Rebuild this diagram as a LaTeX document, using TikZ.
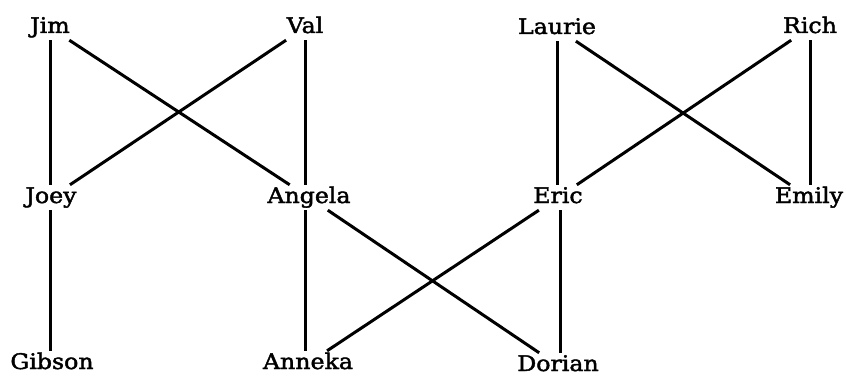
\documentclass[tikz,border=0pt]{standalone}
\usepackage{fontspec}
\setmainfont[FakeStretch=1.1,FakeBold=2]{DejaVu Serif}
\begin{document}
\begin{tikzpicture}[x=1pt,y=-1pt,
  person/.style={anchor=base, font=\fontsize{21.5}{25}\selectfont, text height=15pt, text depth=4pt, inner xsep=1pt, inner ysep=3pt},
  tie/.style={line width=3pt, black}]
\useasboundingbox (0,0) rectangle (846,377);
\node[person] (jim)    at (50,33)  {Jim};
\node[person] (val)    at (305,33) {Val};
\node[person] (laurie) at (557,34) {Laurie};
\node[person] (rich)   at (810,33) {Rich};
\node[person] (joey)   at (51,203) {Joey};
\node[person] (angela) at (309,203) {Angela};
\node[person] (eric)   at (558,203) {Eric};
\node[person] (emily)  at (809,203) {Emily};
\node[person] (gibson) at (52,369) {Gibson};
\node[person] (anneka) at (308,369) {Anneka};
\node[person] (dorian) at (558,371) {Dorian};
\draw[tie] (jim.south -| 50,0) -- (joey.north -| 50,0);
\draw[tie] (jim) -- (angela);
\draw[tie] (val) -- (joey);
\draw[tie] (val.south -| 305,0) -- (angela.north -| 305,0);
\draw[tie] (laurie.south -| 557,0) -- (eric.north -| 557,0);
\draw[tie] (laurie) -- (emily);
\draw[tie] (rich) -- (eric);
\draw[tie] (rich.south -| 810,0) -- (emily.north -| 810,0);
\draw[tie] (joey.south -| 50,0) -- (gibson.north -| 50,0);
\draw[tie] (angela.south -| 305,0) -- (anneka.north -| 305,0);
\draw[tie] (angela) -- (dorian);
\draw[tie] (eric) -- (anneka);
\draw[tie] (eric.south -| 560,0) -- (dorian.north -| 560,0);
\end{tikzpicture}
\end{document}
